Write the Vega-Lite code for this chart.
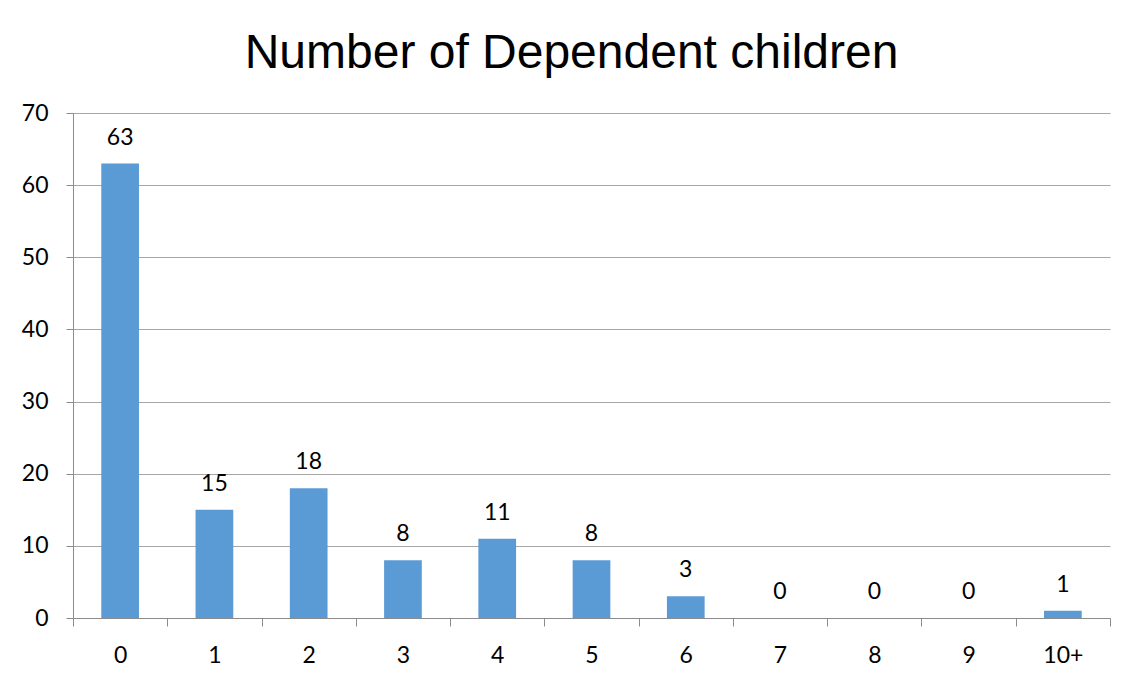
{
  "$schema": "https://vega.github.io/schema/vega-lite/v6.json",
  "width": 1037,
  "height": 505,
  "autosize": {"type": "none"},
  "padding": {"left": 73, "top": 113, "right": 28, "bottom": 63},
  "background": "white",
  "config": {"view": {"stroke": null}},
  "title": {
    "text": "Number of Dependent children",
    "font": "Liberation Sans",
    "fontSize": 48,
    "fontWeight": "normal",
    "color": "#000000",
    "anchor": "middle",
    "baseline": "alphabetic",
    "offset": -14,
    "dx": -20
  },
  "data": {
    "values": [
      {"children": "0", "count": 63},
      {"children": "1", "count": 15},
      {"children": "2", "count": 18},
      {"children": "3", "count": 8},
      {"children": "4", "count": 11},
      {"children": "5", "count": 8},
      {"children": "6", "count": 3},
      {"children": "7", "count": 0},
      {"children": "8", "count": 0},
      {"children": "9", "count": 0},
      {"children": "10+", "count": 1}
    ]
  },
  "encoding": {
    "x": {
      "field": "children",
      "type": "ordinal",
      "sort": null,
      "title": null,
      "scale": {"paddingInner": 0, "paddingOuter": 0},
      "axis": {
        "labelAngle": 0,
        "labelFont": "Lato",
        "labelFontSize": 23,
        "labelColor": "#000000",
        "labelBaseline": "alphabetic",
        "labelPadding": 36,
        "tickBand": "extent",
        "tickSize": 8,
        "tickColor": "#8C8C8C",
        "domainColor": "#8C8C8C",
        "grid": false
      }
    }
  },
  "layer": [
    {
      "mark": {"type": "bar", "color": "#5B9BD5", "width": {"band": 0.4}},
      "encoding": {
        "y": {
          "field": "count",
          "type": "quantitative",
          "title": null,
          "scale": {"domain": [0, 70], "nice": false},
          "axis": {
            "values": [0, 10, 20, 30, 40, 50, 60, 70],
            "labelFont": "Lato",
            "labelFontSize": 23,
            "labelColor": "#000000",
            "labelPadding": 18,
            "tickSize": 7,
            "tickColor": "#8C8C8C",
            "domainColor": "#8C8C8C",
            "gridColor": "#A6A6A6",
            "grid": true
          }
        }
      }
    },
    {
      "mark": {"type": "text", "font": "Lato", "fontSize": 23, "color": "#000000", "baseline": "alphabetic", "dy": -19},
      "encoding": {
        "y": {"field": "count", "type": "quantitative"},
        "text": {"field": "count", "type": "quantitative"}
      }
    }
  ]
}
